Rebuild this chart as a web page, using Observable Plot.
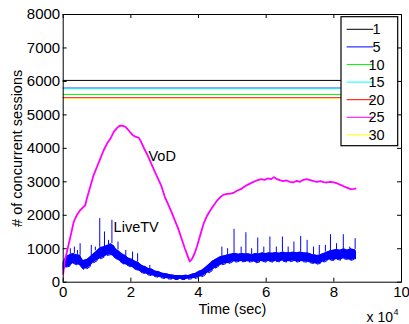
<!DOCTYPE html>
<html><head><meta charset="utf-8">
<script src="https://cdn.jsdelivr.net/npm/d3@7"></script>
<script src="https://cdn.jsdelivr.net/npm/@observablehq/plot@0.6"></script>
<style>html,body{margin:0;padding:0;background:#fff;} #chart{width:409px;height:324px;overflow:hidden}</style>
</head><body><div id="chart"></div>
<script>
// ---- data ----
const seriesNames = ["1","5","10","15","20","25","30"];
const seriesColors = ["#000000","#0000ff","#00ff00","#00ffff","#ff0000","#ff00ff","#ffff00"];
const seriesLevels = [6030, 5800, 5610, 5790, 5520, 5505, 5495];
const dayEnd = 86400;

const vodT = [0,400,1200,2000,3100,4000,5000,6000,6500,7000,8000,9000,10000,11000,12000,13000,14000,15000,16000,16800,17500,18300,19000,19800,20500,21500,22300,23000,24000,25000,26000,27000,28000,29000,30000,31000,32000,33000,34000,35000,36000,36800,37400,38000,38800,39500,40500,41500,42500,43500,44500,45500,46500,47500,48500,49500,50500,51500,52500,53500,54500,55500,56500,57500,58500,59500,60500,61500,62300,63000,64000,65000,66000,67000,68000,69000,70000,71000,72000,73000,74000,75000,76000,77000,78000,79000,80000,81000,82000,83000,84000,85000,86000,86400];
const vodV = [250,600,950,1300,1800,2000,2150,2250,2300,2500,2850,3200,3450,3700,3950,4150,4300,4500,4620,4680,4670,4650,4580,4480,4400,4340,4320,4200,3980,3780,3550,3320,3100,2880,2560,2330,2100,1850,1600,1300,1000,780,620,680,850,1050,1400,1750,1980,2150,2300,2440,2550,2620,2640,2650,2680,2740,2780,2850,2910,2960,3010,3050,3080,3060,3100,3080,3140,3090,3050,3020,3040,3000,2980,3030,3000,3060,3080,3050,3020,3000,3020,2990,2980,3000,2980,2950,2910,2860,2820,2780,2790,2800];

// LiveTV: noisy band read as low / high envelope every 1000 s
const liveT = [0,1000,2000,3000,4000,5000,6000,7000,8000,9000,10000,11000,12000,13000,14000,15000,16000,17000,18000,19000,20000,21000,22000,23000,24000,25000,26000,27000,28000,29000,30000,31000,32000,33000,34000,35000,36000,37000,38000,39000,40000,41000,42000,43000,44000,45000,46000,47000,48000,49000,50000,51000,52000,53000,54000,55000,56000,57000,58000,59000,60000,61000,62000,63000,64000,65000,66000,67000,68000,69000,70000,71000,72000,73000,74000,75000,76000,77000,78000,79000,80000,81000,82000,83000,84000,85000,86000,86400];
const liveLo = [350,450,480,560,520,500,380,400,470,580,640,700,740,800,820,750,680,600,540,500,460,400,360,300,260,220,200,170,150,130,110,100,90,80,80,80,80,90,100,110,140,160,220,280,340,420,480,520,550,560,600,600,620,610,620,600,620,580,600,620,600,620,600,620,610,630,600,620,630,600,620,610,600,580,560,540,560,600,640,660,650,680,660,700,680,650,680,700];
const liveHi = [600,780,820,860,820,800,650,680,760,850,940,1040,1060,1100,1150,1080,960,880,820,740,700,640,600,520,480,420,400,340,320,280,260,240,220,200,200,190,210,200,240,260,320,360,440,520,620,680,740,780,800,830,850,860,840,860,850,840,830,860,850,880,860,880,870,890,870,900,880,880,900,880,900,880,880,850,820,800,820,860,900,940,960,980,960,1000,960,1000,980,950];
const spikeT = [2100,3300,4200,5000,8300,9500,10800,12200,13400,14400,16200,18500,20500,22000,25600,46900,48600,50500,52600,54000,55700,57500,59300,61100,63000,64800,66500,68200,70200,72100,74000,75700,77500,79000,80800,82800,84700,86300];
const spikeV = [1000,1050,950,1150,1100,1050,1900,1500,1250,1850,1200,950,900,850,500,1050,1000,1580,1050,1480,1000,1320,1050,1350,1050,1350,1050,1200,1370,1250,1050,1100,1100,1420,1150,1420,1050,1300];

const curveLabels = ["VoD","LiveTV"];
const curveLabelT = [25200, 14900];
const curveLabelV = [3760, 1640];

const xTicks = [0,20000,40000,60000,80000,100000];
const xTickLabels = ["0","2","4","6","8","10"];
const yTicks = [0,1000,2000,3000,4000,5000,6000,7000,8000];
const xLabel = "Time (sec)";
const yLabel = "# of concurrent sessions";
const xExpBase = "x 10";
const xExp = "4";

// ---- tables ----
const levels = seriesNames.map((n,i)=>({n, v: seriesLevels[i], c: seriesColors[i]}));
const vod = vodT.map((t,i)=>({t, v: vodV[i]}));
const live = liveT.map((t,i)=>({t, lo: liveLo[i], hi: liveHi[i]}));
// zigzag between the read low and high values, giving the band its noisy edge
const liveZig = [];
live.forEach((d,i)=>{ liveZig.push({t: d.t, v: i % 2 ? d.hi : d.lo}); liveZig.push({t: d.t, v: i % 2 ? d.lo : d.hi}); });
const spikes = spikeT.map((t,i)=>({t, v: spikeV[i], base: liveHi[Math.min(liveHi.length-1, Math.round(t/1000))]}));
const labels = curveLabels.map((s,i)=>({s, t: curveLabelT[i], v: curveLabelV[i]}));

const W = 409, H = 324, mL = 62.7, mR = 8, mT = 14, mB = 42.3;
const fw = W - mL - mR, fh = H - mT - mB, tk = 4;
const font = "'Liberation Sans', Arial, Helvetica, sans-serif";

const plot = Plot.plot({
  width: W, height: H, marginLeft: mL, marginRight: mR, marginTop: mT, marginBottom: mB,
  style: {fontFamily: font, fontSize: "15px", background: "white", color: "black", overflow: "visible"},
  x: {domain: [0, 100000]},
  y: {domain: [0, 8000]},
  color: {type: "identity"},
  marks: [
    Plot.ruleY(levels, {y: "v", x1: () => 0, x2: () => dayEnd, stroke: "c", strokeWidth: 1}),
    Plot.areaY(live, {x: "t", y1: "lo", y2: "hi", fill: "#0000ff"}),
    Plot.line(liveZig, {x: "t", y: "v", stroke: "#0000ff", strokeWidth: 1}),
    Plot.ruleX(spikes, {x: "t", y1: "base", y2: "v", stroke: "#0000ff", strokeWidth: 1}),
    Plot.line(vod, {x: "t", y: "v", stroke: "#ff00ff", strokeWidth: 1.8}),
    Plot.text(labels, {x: "t", y: "v", text: "s", textAnchor: "start", lineAnchor: "middle", fontSize: 14.5, fill: "black"}),
    Plot.tickX(xTicks, {x: d => d, insetTop: fh - tk, stroke: "black"}),
    Plot.tickX(xTicks, {x: d => d, insetBottom: fh - tk, stroke: "black"}),
    Plot.tickY(yTicks, {y: d => d, insetRight: fw - tk, stroke: "black"}),
    Plot.tickY(yTicks, {y: d => d, insetLeft: fw - tk, stroke: "black"}),
    Plot.frame({stroke: "black", strokeWidth: 1}),
    Plot.axisX(xTicks, {tickSize: 0, tickPadding: 4, tickFormat: d => xTickLabels[xTicks.indexOf(d)], label: null, fontSize: 15}),
    Plot.axisY(yTicks, {tickSize: 0, tickPadding: 3, tickFormat: d => String(d), label: null, fontSize: 15}),
    Plot.text([xLabel], {text: d => d, frameAnchor: "bottom", textAnchor: "middle", lineAnchor: "middle", dy: 27.5, fontSize: 14.5}),
    Plot.text([yLabel], {text: d => d, frameAnchor: "left", textAnchor: "middle", lineAnchor: "middle", dx: -46, rotate: -90, fontSize: 14.5}),
    Plot.text([xExpBase], {text: d => d, frameAnchor: "bottom-right", textAnchor: "end", lineAnchor: "middle", dx: -8.5, dy: 35.5, fontSize: 14}),
    Plot.text([xExp], {text: d => d, frameAnchor: "bottom-right", textAnchor: "start", lineAnchor: "middle", dx: -8, dy: 29.5, fontSize: 9})
  ]
});
document.getElementById("chart").appendChild(plot);

// ---- legend (MATLAB-style box, top right) ----
const svg = d3.select(plot);
const lg = svg.append("g").attr("font-family", font).attr("font-size", 14.5);
const lx = 341, ly = 16.7, lw = 56.7, lh = 129, step = 17.6;
lg.append("rect").attr("x", lx).attr("y", ly).attr("width", lw).attr("height", lh)
  .attr("fill", "white").attr("stroke", "black").attr("stroke-width", 1.2);
seriesNames.forEach((n, i) => {
  const yy = ly + 12.6 + i * step;
  lg.append("line").attr("x1", lx + 5.7).attr("x2", lx + 32.3).attr("y1", yy).attr("y2", yy)
    .attr("stroke", seriesColors[i]).attr("stroke-width", 1);
  lg.append("text").attr("x", lx + 35.5).attr("y", yy).attr("dy", "0.35em").attr("fill", "black").text(n);
});
</script></body></html>
